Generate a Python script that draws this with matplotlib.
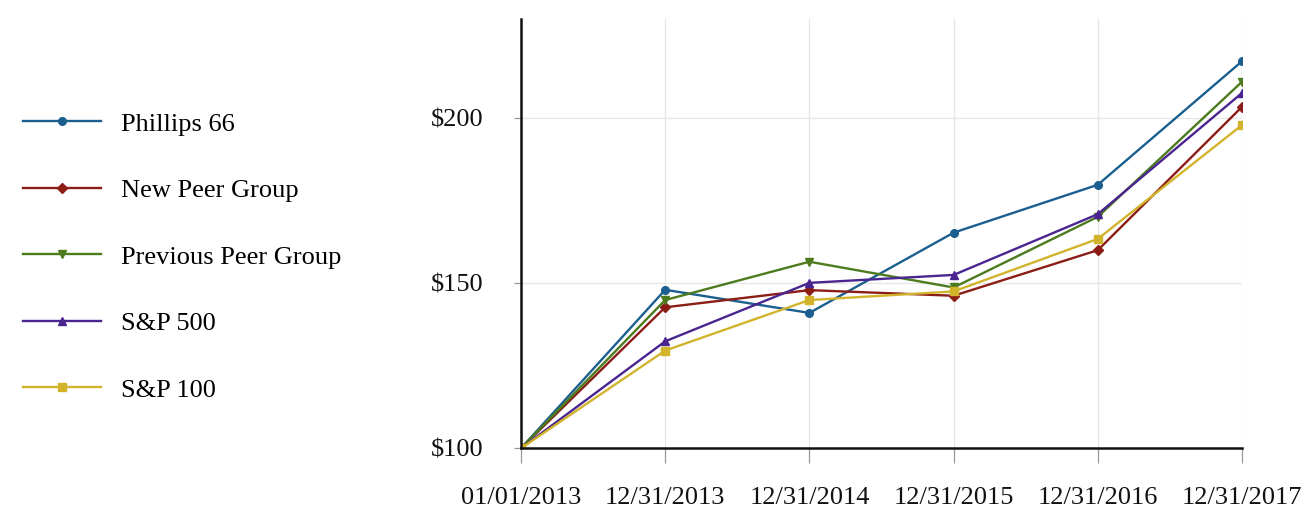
import numpy as np
import matplotlib.pyplot as plt

dates = ['01/01/2013', '12/31/2013', '12/31/2014', '12/31/2015', '12/31/2016', '12/31/2017']

phillips66 = [100, 148.0, 141.0, 165.3, 179.8, 217.2]
new_peer = [100, 142.7, 147.9, 146.2, 160.0, 203.4]
prev_peer = [100, 144.9, 156.5, 148.7, 170.1, 211.0]
sp500 = [100, 132.4, 150.1, 152.5, 170.9, 207.6]
sp100 = [100, 129.6, 144.9, 147.5, 163.4, 197.9]

series = [
    ('Phillips 66', phillips66, '#1b5f8f', 'o'),
    ('New Peer Group', new_peer, '#8c1d16', 'D'),
    ('Previous Peer Group', prev_peer, '#4c7b1e', 'v'),
    ('S&P 500', sp500, '#4a2590', '^'),
    ('S&P 100', sp100, '#d2b42c', 's'),
]

plt.rcParams['font.family'] = ['Liberation Serif', 'DejaVu Serif']

fig = plt.figure(figsize=(13.1, 5.08), dpi=100)
ax = fig.add_axes([0.3977, 0.1175, 0.5504, 0.8451])

x = np.arange(len(dates))
handles = []
for name, vals, col, mk in series:
    h, = ax.plot(x, vals, color=col, marker=mk, markersize=5.5, linewidth=1.7, label=name)
    handles.append(h)

ax.set_xlim(0, 5)
ax.set_ylim(100, 230)
ax.set_xticks(x)
ax.set_xticklabels(dates, fontsize=19)
ax.set_yticks([100, 150, 200])
ax.set_yticklabels(['$100', '$150', '$200'], fontsize=19)
ax.grid(True, color='#e6e6e6', linewidth=0.9)
ax.set_axisbelow(True)
for s in ['top', 'right']:
    ax.spines[s].set_visible(False)
for s in ['left', 'bottom']:
    ax.spines[s].set_linewidth(1.8)
    ax.spines[s].set_color('#111111')
ax.tick_params(axis='both', colors='#999999', labelcolor='#111111', length=5, width=0.9)
ax.tick_params(axis='x', length=11, pad=16.5)
ax.tick_params(axis='y', pad=22)

fig.legend(handles=handles, loc='upper left', bbox_to_anchor=(-0.0005, 0.826),
           frameon=False, fontsize=19, handlelength=2.95, handletextpad=0.76,
           labelspacing=1.63)

fig.savefig('out.png', dpi=100)
